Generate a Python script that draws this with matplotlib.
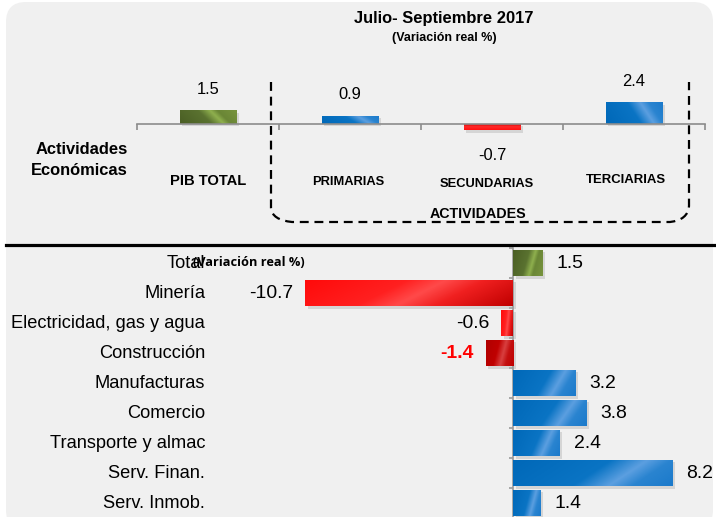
import numpy as np
import matplotlib
matplotlib.use("Agg")
import matplotlib.pyplot as plt
from matplotlib import font_manager, transforms
from matplotlib.patches import FancyBboxPatch, PathPatch, Rectangle
from matplotlib.path import Path
from matplotlib.lines import Line2D
from matplotlib.colors import LinearSegmentedColormap

# ---------------- data ----------------
top_categories = ["PIB TOTAL", "PRIMARIAS", "SECUNDARIAS", "TERCIARIAS"]
top_values = [1.5, 0.9, -0.7, 2.4]

sector_labels = ["Total", "Minería", "Electricidad, gas y agua", "Construcción",
                 "Manufacturas", "Comercio", "Transporte y almac", "Serv. Finan.",
                 "Serv. Inmob."]
sector_values = [1.5, -10.7, -0.6, -1.4, 3.2, 3.8, 2.4, 8.2, 1.4]

title_text = "Julio- Septiembre 2017"
subtitle_text = "(Variación real %)"
left_label = "Actividades\nEconómicas"
bracket_label = "ACTIVIDADES"

# ---------------- fonts ----------------
names = {f.name for f in font_manager.fontManager.ttflist}
if "Liberation Sans Narrow" in names:
    FONT = "Liberation Sans Narrow"
    K = 1.0
else:
    FONT = "Liberation Sans"
    K = 0.82
plt.rcParams["font.family"] = [FONT, "DejaVu Sans"]

W, H = 716, 517
fig = plt.figure(figsize=(W / 100, H / 100), dpi=100)
fig.patch.set_facecolor("white")


def fx(x):
    return x / W


def fy(y):
    return 1 - y / H


# background panel with rounded corners (inches)
panel = FancyBboxPatch((6 / 100, (H - 530) / 100), (713 - 6) / 100, (530 - 2) / 100,
                       boxstyle="round,pad=0,rounding_size=0.2",
                       transform=fig.dpi_scale_trans, facecolor="#f0f0f0",
                       edgecolor="none", zorder=0)
fig.add_artist(panel)

# black separator line
fig.add_artist(Line2D([fx(6), 1.0], [fy(244.5), fy(244.5)], color="black",
                      lw=2.3, transform=fig.transFigure, zorder=5))

GREEN = [(0, "#4a5e24"), (0.45, "#5a7230"), (0.62, "#8fb04e"), (0.72, "#6a8636"), (1, "#78943e")]
BLUE = [(0, "#0068b8"), (0.5, "#0a74c4"), (0.68, "#5c9fe0"), (0.8, "#2a84d0"), (1, "#1b7acb")]
RED = [(0, "#ff0a0a"), (0.4, "#ff2020"), (0.55, "#ff4a4a"), (0.7, "#f02020"), (1, "#c00000")]
DRED = [(0, "#b00000"), (0.4, "#c00000"), (0.6, "#d84040"), (0.75, "#c41010"), (1, "#c00000")]
REDV = [(0, "#ff1010"), (0.5, "#ff2a2a"), (0.75, "#e01010"), (1, "#c00000")]


def glossy(ax, patch, stops, vertical=False):
    x0, y0 = patch.get_x(), patch.get_y()
    w, h = patch.get_width(), patch.get_height()
    ny, nx = 40, 160
    jj, ii = np.meshgrid(np.linspace(0, 1, nx), np.linspace(0, 1, ny))
    t = np.clip(jj * 0.8 + 0.2 * ii, 0, 1) if not vertical else ii
    cmap = LinearSegmentedColormap.from_list("g", stops)
    arr = cmap(t)[..., :3]
    im = ax.imshow(arr, extent=[min(x0, x0 + w), max(x0, x0 + w),
                                min(y0, y0 + h), max(y0, y0 + h)],
                   aspect="auto", origin="lower", interpolation="bilinear",
                   zorder=patch.get_zorder() + 0.1)
    im.set_clip_path(patch)
    off = transforms.ScaledTranslation(2.5 / 100, -2.5 / 100, fig.dpi_scale_trans)
    sh = Rectangle((x0, y0), w, h, transform=ax.transData + off,
                   facecolor="#b5b5b5", edgecolor="none", alpha=0.45,
                   zorder=patch.get_zorder() - 0.5)
    ax.add_patch(sh)


# ---------------- top panel ----------------
ppu = 9.0
ax1 = fig.add_axes([fx(137), fy(200), (705 - 137) / W, 140 / H])
ax1.set_facecolor("none")
xs = np.arange(len(top_categories))
top_styles = [GREEN, BLUE, REDV, BLUE]
bars1 = ax1.bar(xs, top_values, width=0.4, color="#888888", zorder=3)
for b, st, v in zip(bars1, top_styles, top_values):
    glossy(ax1, b, st, vertical=(v < 0))
ax1.set_xlim(-0.5, len(top_categories) - 0.5)
ax1.set_ylim(-76 / ppu, 64 / ppu)
for s in ["top", "left", "right"]:
    ax1.spines[s].set_visible(False)
ax1.spines["bottom"].set_position(("data", 0))
ax1.spines["bottom"].set_color("#8c8c8c")
ax1.spines["bottom"].set_linewidth(1.2)
ax1.spines["bottom"].set_zorder(4)
ax1.set_xticks(np.arange(-0.5, len(top_categories), 1.0))
ax1.set_xticklabels([])
ax1.tick_params(axis="x", direction="out", length=4, color="#8c8c8c", width=1.2)
ax1.set_yticks([])

for x, v in zip(xs, top_values):
    off = 21 if v >= 0 else -25
    ax1.annotate(f"{v:.1f}", (x, v), xytext=(0, off * 0.72), textcoords="offset points",
                 ha="center", va="center", fontsize=14.5 * K, color="black")

tr1 = transforms.blended_transform_factory(ax1.transData, fig.transFigure)
cat_dx = [0, -0.015, -0.035, -0.06]
cat_y = [181, 182, 184, 180]
cat_fs = [13, 11.3, 11.3, 11.5]
for x, lab, dx, yy, fs in zip(xs, top_categories, cat_dx, cat_y, cat_fs):
    ax1.text(x + dx, fy(yy), lab, transform=tr1, ha="center", va="center",
             fontsize=fs * K, fontweight="bold")

fig.text(fx(444), fy(18), title_text, ha="center", va="center",
         fontsize=14.5 * K, fontweight="bold")
fig.text(fx(444), fy(38), subtitle_text, ha="center", va="center",
         fontsize=11 * K, fontweight="bold")
fig.text(fx(128), fy(160), left_label, ha="right", va="center",
         fontsize=14.5 * K, fontweight="bold", linespacing=1.5)
fig.text(fx(478), fy(214), bracket_label, ha="center", va="center",
         fontsize=12.5 * K, fontweight="bold", zorder=4)

# dashed bracket
pts = [(271, 82), (271, 208), (272, 220), (292, 222), (670, 222),
       (688, 220), (689, 206), (689, 82)]
codes = [Path.MOVETO, Path.LINETO, Path.CURVE3, Path.CURVE3, Path.LINETO,
         Path.CURVE3, Path.CURVE3, Path.LINETO]
path = Path([(fx(a), fy(b)) for a, b in pts], codes)
fig.add_artist(PathPatch(path, facecolor="none", edgecolor="black", lw=1.6,
                         linestyle=(0, (4, 2.6)), transform=fig.transFigure, zorder=3))

# ---------------- bottom panel ----------------
ppu2 = 19.4
ax2 = fig.add_axes([fx(220), fy(518), (700 - 220) / W, 270 / H])
ax2.set_facecolor("none")
ys = np.arange(len(sector_labels))
sec_styles = []
for i, v in enumerate(sector_values):
    if i == 0:
        sec_styles.append(GREEN)
    elif v < 0:
        sec_styles.append(DRED if i == 3 else RED)
    else:
        sec_styles.append(BLUE)
bars2 = ax2.barh(ys, sector_values, height=0.87, color="#888888", zorder=3)
for b, st in zip(bars2, sec_styles):
    glossy(ax2, b, st)
ax2.set_xlim(-(513 - 220) / ppu2, (700 - 513) / ppu2)
ax2.set_ylim(len(sector_labels) - 0.5, -0.5)
for s in ["top", "bottom", "right"]:
    ax2.spines[s].set_visible(False)
ax2.spines["left"].set_position(("data", 0))
ax2.spines["left"].set_color("#9a9a9a")
ax2.spines["left"].set_linewidth(1.2)
ax2.set_yticks(np.arange(-0.5, len(sector_labels), 1.0))
ax2.set_yticklabels([])
ax2.tick_params(axis="y", direction="out", length=3, color="#9a9a9a", width=1.2)
ax2.set_xticks([])

tr2 = transforms.blended_transform_factory(fig.transFigure, ax2.transData)
for y, lab in zip(ys, sector_labels):
    ax2.text(fx(205), y, lab, transform=tr2, ha="right", va="center",
             fontsize=16 * K, color="black")

for i, (y, v) in enumerate(zip(ys, sector_values)):
    if v >= 0:
        ax2.annotate(f"{v:.1f}", (v, y), xytext=(14 * 0.72, 0), textcoords="offset points",
                     ha="left", va="center", fontsize=17 * K)
    else:
        red = i == 3
        ax2.annotate(f"{v:.1f}", (v, y), xytext=(-12 * 0.72, 0), textcoords="offset points",
                     ha="right", va="center", fontsize=17 * K,
                     color="red" if red else "black",
                     fontweight="bold" if red else "normal")

# overlapping unit label
fig.text(fx(193), fy(262), subtitle_text, ha="left", va="center",
         fontsize=9.2, fontweight="bold", family=["Open Sans", "DejaVu Sans"], zorder=6)

fig.savefig("out.png", dpi=100, facecolor="white")
